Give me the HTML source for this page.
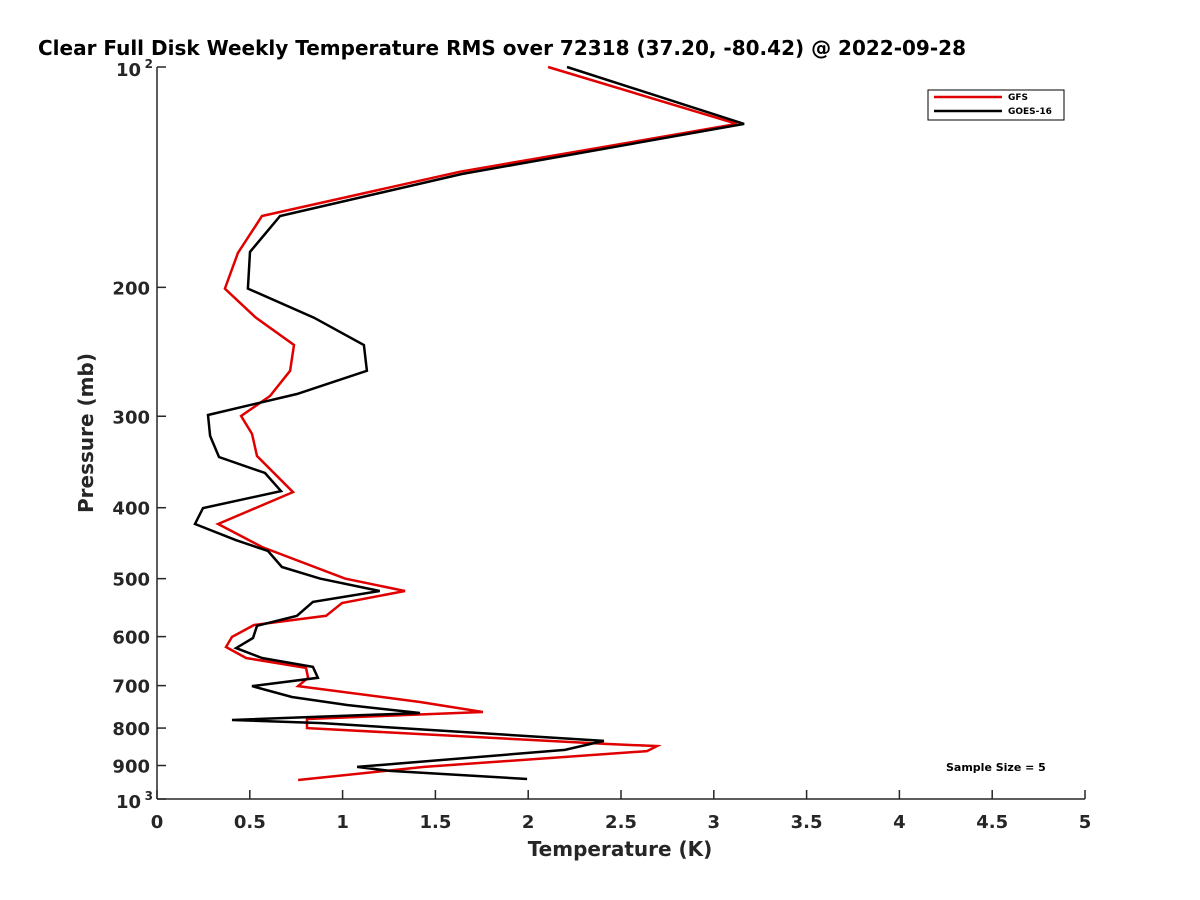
<!DOCTYPE html>
<html><head><meta charset="utf-8"><style>
html,body{margin:0;padding:0;background:#fff;overflow:hidden;}
svg{display:block;font-family:"DejaVu Sans","Liberation Sans",sans-serif;}
</style></head><body>
<svg id="chart" width="1200" height="900" viewBox="0 0 1200 900">
<rect width="1200" height="900" fill="#fff"/>
<text x="38" y="55" font-size="20" font-weight="bold" fill="#000">Clear Full Disk Weekly Temperature RMS over 72318 (37.20, -80.42) @ 2022-09-28</text>
<g id="axes"></g>
<g id="series"></g>
<text x="620" y="856" font-size="20" font-weight="bold" fill="#262626" text-anchor="middle">Temperature (K)</text>
<text transform="translate(93,433) rotate(-90)" font-size="20" font-weight="bold" fill="#262626" text-anchor="middle">Pressure (mb)</text>
<g>
<rect x="928" y="90" width="136" height="30" fill="#fff" stroke="#000" stroke-width="1"/>
<line x1="934" y1="97" x2="1002" y2="97" stroke="#e00000" stroke-width="2.5"/>
<text x="1008" y="100" font-size="9" font-weight="bold">GFS</text>
<line x1="934" y1="111" x2="1002" y2="111" stroke="#000" stroke-width="2.5"/>
<text x="1008" y="114" font-size="9" font-weight="bold">GOES-16</text>
</g>
<text x="946" y="771" font-size="11" font-weight="bold">Sample Size = 5</text>
</svg>
<script>
const xTicks=[0,0.5,1,1.5,2,2.5,3,3.5,4,4.5,5];
const xTickLabels=["0","0.5","1","1.5","2","2.5","3","3.5","4","4.5","5"];
const yTicks=[100,200,300,400,500,600,700,800,900,1000];
const yTickLabels=["10^2","200","300","400","500","600","700","800","900","10^3"];
const gfsT=[2.107,3.125,1.633,0.566,0.436,0.366,0.533,0.738,0.717,0.609,0.453,0.512,0.539,0.733,0.329,0.566,1.013,1.336,0.997,0.911,0.523,0.404,0.372,0.480,0.803,0.814,0.760,1.417,1.756,0.808,0.808,2.43,2.694,2.640,1.439,0.760];
const gfsP=[100,119.6,139,159.8,179.5,200.8,220,239.8,260,281.5,299.8,317,340,380.8,421,452.6,500,519.8,539.8,562,578.5,600.5,620,641.8,662,683,701,737,760.6,777.5,800,841,846.7,860,904,942];
const goesT=[2.209,3.163,1.643,0.663,0.501,0.490,0.846,1.115,1.131,0.754,0.275,0.286,0.334,0.582,0.668,0.248,0.205,0.426,0.598,0.673,0.878,1.20,0.840,0.754,0.539,0.517,0.426,0.566,0.840,0.867,0.512,0.727,1.024,1.417,0.404,0.889,2.408,2.198,1.078,1.255,1.994];
const goesP=[100,119.6,140,159.8,178.9,200.8,220,239.8,260,279.7,298.8,319,341,358.6,379.6,400.5,421,443,458.4,482,500,519.8,538,562,580,602.6,622,641.8,660,683,701,725.6,744,763,780,787.5,833,857,904,915.5,939];

const X0=157,X1=1085,Y0=67,Y1=799;
const xs=v=>X0+(v-0)/5*(X1-X0);
const ys=p=>Y0+(Math.log10(p)-2)*(Y1-Y0);
const NS="http://www.w3.org/2000/svg";
function mk(tag,attrs,parent){const e=document.createElementNS(NS,tag);for(const k in attrs)e.setAttribute(k,attrs[k]);parent.appendChild(e);return e;}
const axes=document.getElementById('axes');
let l=mk('line',{x1:X0,y1:Y0,x2:X0,y2:Y1,stroke:'#262626','stroke-width':1.5},axes);


l=mk('line',{x1:X0,y1:Y1,x2:X1,y2:Y1,stroke:'#262626','stroke-width':1.5},axes);


xTicks.forEach((v,i)=>{
  const x=xs(v);
  const t=mk('line',{x1:x,y1:Y1,x2:x,y2:Y1-9,stroke:'#262626','stroke-width':1.5},axes);
  
  
  const tx=mk('text',{x:x,y:Y1+29,'font-size':18,'font-weight':'bold',fill:'#262626','text-anchor':'middle'},axes);
  tx.textContent=xTickLabels[i];
  
  
});
yTicks.forEach((p,i)=>{
  const y=ys(p);
  const t=mk('line',{x1:X0,y1:y,x2:X0+9,y2:y,stroke:'#262626','stroke-width':1.5},axes);
  
  
  const lab=yTickLabels[i];
  const tx=mk('text',{x:X0-7,y:y+7,'font-size':18,'font-weight':'bold',fill:'#262626','text-anchor':'end'},axes);
  if(lab.indexOf('^')>=0){
    const [b,e]=lab.split('^');
    tx.setAttribute('x',X0-16);
    tx.setAttribute('y',y+9);
    tx.textContent=b;
    const sup=mk('text',{x:X0-4,y:y+1,'font-size':12,'font-weight':'bold',fill:'#262626','text-anchor':'end'},axes);
    sup.textContent=e;
    
    
  } else tx.textContent=lab;
  
  
});
const series=document.getElementById('series');
function drawLine(T,P,color,name){
  const pts=T.map((t,i)=>xs(t).toFixed(1)+','+ys(P[i]).toFixed(1)).join(' ');
  const pl=mk('polyline',{points:pts,fill:'none',stroke:color,'stroke-width':2.5,'stroke-linejoin':'miter'},series);
  
  
}
drawLine(gfsT,gfsP,'#e00000','gfs-line');
drawLine(goesT,goesP,'#000','goes16-line');
</script>
</body></html>
